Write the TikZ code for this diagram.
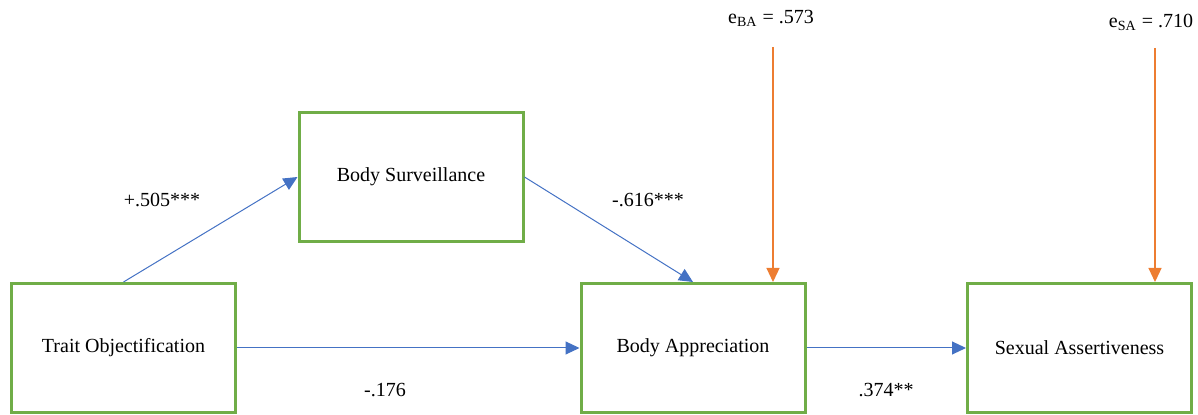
\documentclass[tikz,border=0pt]{standalone}
\usepackage{fontspec}
\setmainfont{Liberation Serif}
\usetikzlibrary{arrows.meta}

\definecolor{boxgreen}{RGB}{112,173,71}
\definecolor{pathblue}{RGB}{68,114,196}
\definecolor{errorange}{RGB}{237,125,49}

\begin{document}
\begin{tikzpicture}[x=0.5pt,y=-0.5pt,
    font=\fontsize{10}{12}\selectfont,
    varbox/.style={draw=boxgreen,line width=1.5pt,minimum width=112pt,minimum height=64.5pt,inner sep=0pt},
    patharrow/.style={draw=pathblue,line width=0.5pt,-{Triangle[length=7pt,width=6.5pt,fill=pathblue]}},
    errarrow/.style={draw=errorange,line width=0.6pt,-{Triangle[length=7pt,width=6.5pt,fill=errorange]}}]
    \useasboundingbox (0,0) rectangle (1198,415);

    % variables
    \node[varbox] (trait) at (123.5,348) {Trait Objectification};
    \node[varbox] (surv) at (411,177) {Body Surveillance};
    \node[varbox] (appr) at (693,348) {Body Appreciation};
    \node[varbox] (sex) at (1079.5,348) {Sexual Assertiveness};

    % paths
    \draw[patharrow] (trait.north) -- (surv.west);
    \draw[patharrow] (surv.east) -- (appr.north);
    \draw[patharrow] (trait.east) -- (appr.west);
    \draw[patharrow] (appr.east) -- (sex.west);

    \node (pa) at (162,200) {+.505***};
    \node (pb) at (648,200) {-.616***};
    \node (pc) at (385,390) {-.176};
    \node (pd) at (886,390) {.374**};

    % error terms
    \node (eba) at (771,18) {e\textsubscript{BA} = .573};
    \node (esa) at (1151,22) {e\textsubscript{SA} = .710};
    \coordinate (ebatop) at (773,47);
    \coordinate (esatop) at (1155,48);
    \draw[errarrow] (ebatop) -- (ebatop |- appr.north);
    \draw[errarrow] (esatop) -- (esatop |- sex.north);
\end{tikzpicture}
\end{document}
